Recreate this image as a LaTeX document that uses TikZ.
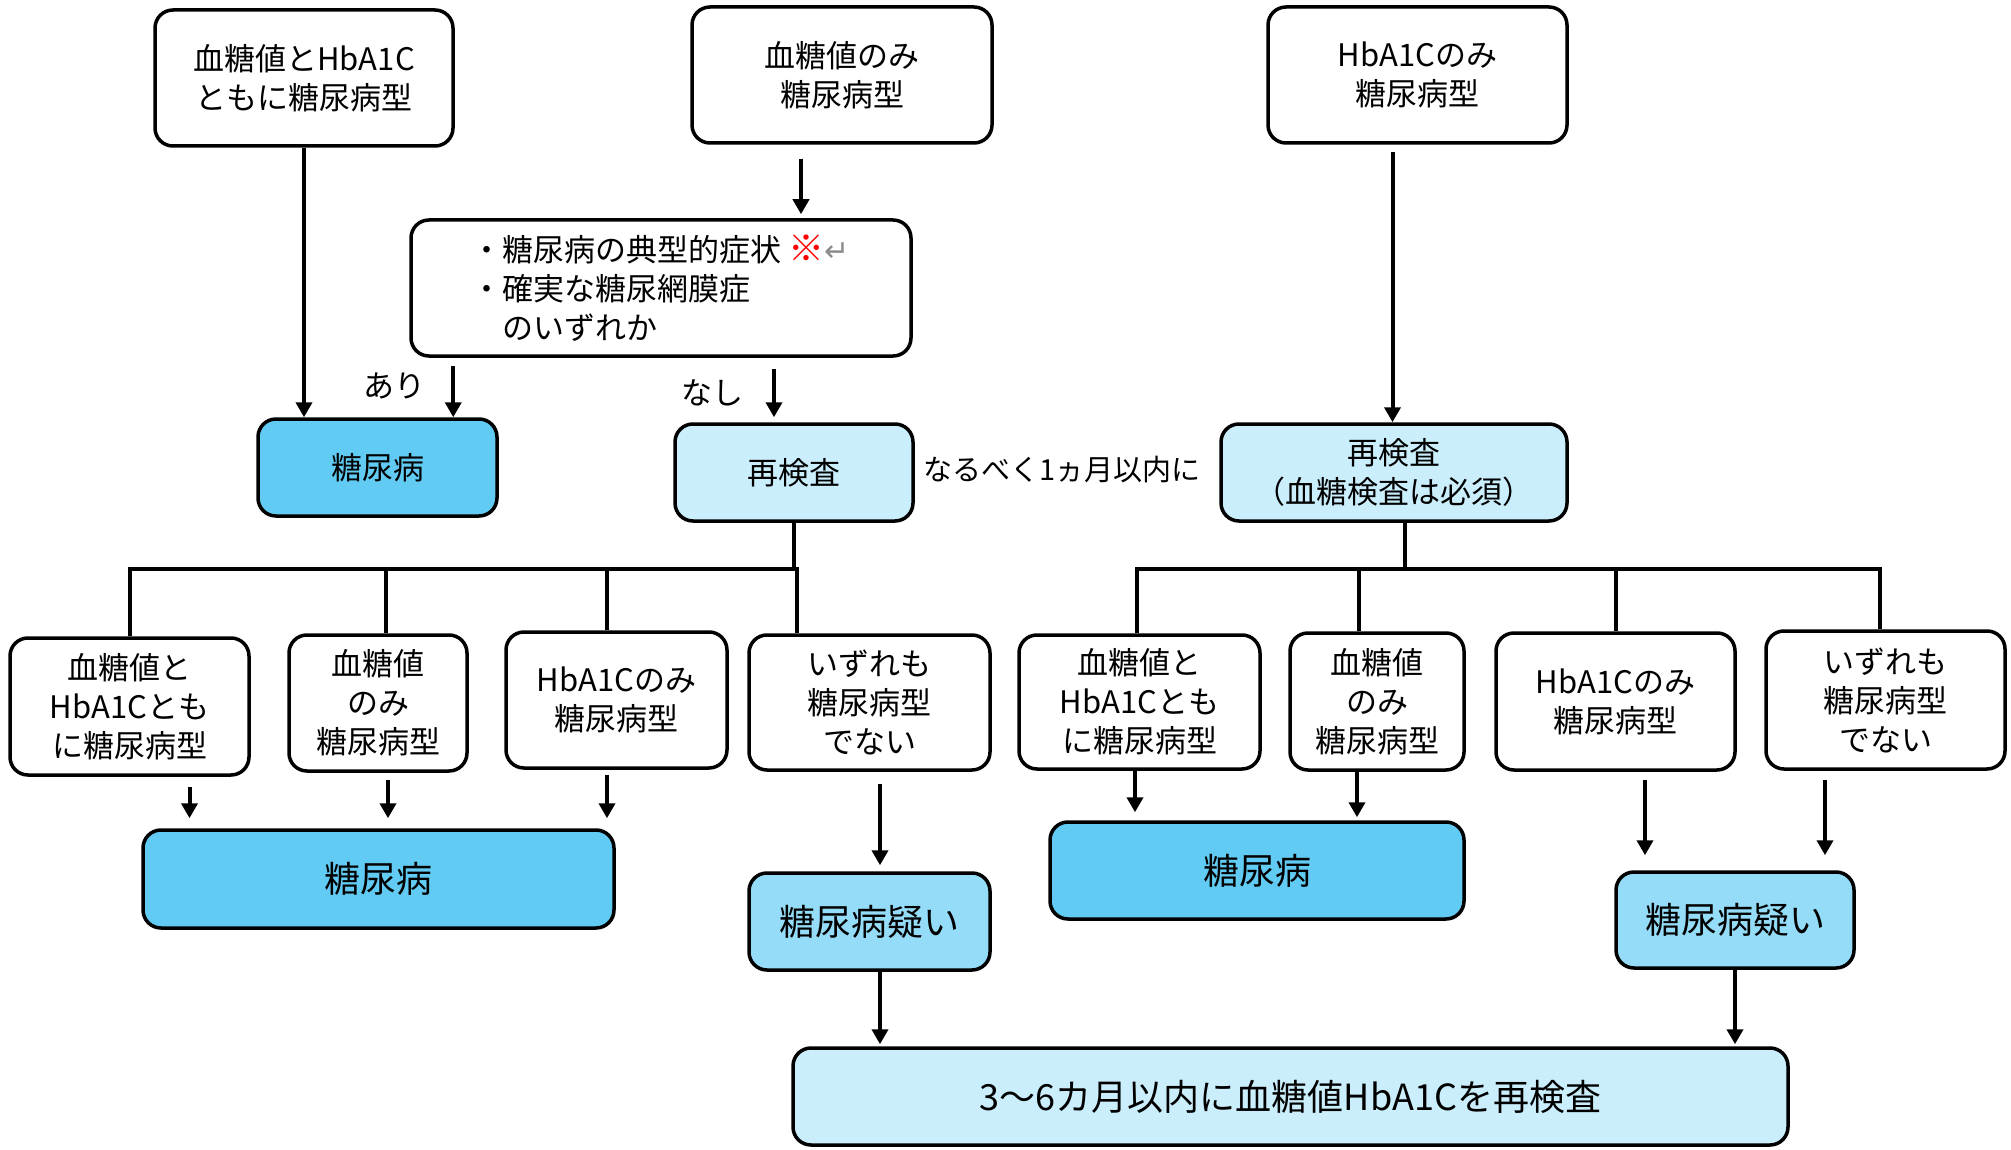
\documentclass[tikz,border=0pt]{standalone}
\usepackage{fontspec}
\setmainfont{Noto Sans CJK JP}
\newfontfamily\dejavu{DejaVu Sans}
\usetikzlibrary{arrows.meta,calc}
\definecolor{dmblue}{HTML}{61CBF3}
\definecolor{reblue}{HTML}{CAEEFB}
\definecolor{susblue}{HTML}{94DCF8}
\definecolor{markgray}{HTML}{8C8C8C}
\tikzset{
  box/.style={draw, line width=3.5pt, rounded corners=18pt, align=center, inner sep=0pt, fill=white, font=\fontsize{31}{39}\selectfont},
  dmbox/.style={box, fill=dmblue},
  rebox/.style={box, fill=reblue},
  susbox/.style={box, fill=susblue, font=\fontsize{36}{44}\selectfont},
  bigtxt/.style={font=\fontsize{36}{44}\selectfont},
  lbl/.style={inner sep=0pt, font=\fontsize{31}{39}\selectfont},
  arr/.style={line width=4pt, -{Triangle[length=15pt,width=16pt]}},
  conn/.style={line width=4pt, line join=miter}
}
\begin{document}
\begin{tikzpicture}[x=1pt,y=-1pt]
\useasboundingbox (0,0) rectangle (2011,1150);
% top row
\node[box, minimum width=298pt, minimum height=136pt] (b1) at (304,78) {血糖値とHbA1C\\ともに糖尿病型};
\node[box, minimum width=300pt, minimum height=136pt] (b2) at (842,75) {血糖値のみ\\糖尿病型};
\node[box, minimum width=299pt, minimum height=136pt] (b3) at (1417.5,75) {HbA1Cのみ\\糖尿病型};
\node[box, minimum width=500pt, minimum height=136pt, align=left] (sym) at (661,288) {・糖尿病の典型的症状 {\fontsize{36}{39}\selectfont\color{red}※}{\dejavu\fontsize{30}{39}\selectfont\color{markgray}↵}\\・確実な糖尿網膜症\\　のいずれか};
% second row
\node[dmbox, minimum width=239pt, minimum height=97pt] (dm1) at (377.5,467.5) {糖尿病};
\node[rebox, minimum width=238pt, minimum height=97pt] (re1) at (794,472.5) {再検査};
\node[rebox, minimum width=346pt, minimum height=97pt] (re2) at (1394,472.5) {再検査\\（血糖検査は必須）};
\node[lbl] (ari) at (394,386) {あり};
\node[lbl] (nashi) at (712,393) {なし};
\node[lbl, font=\fontsize{29}{36}\selectfont] (within) at (1062,470) {なるべく1ヵ月以内に};
% third row left
\node[box, minimum width=239pt, minimum height=137pt] (L1) at (129.5,706.5) {血糖値と\\HbA1Cとも\\に糖尿病型};
\node[box, minimum width=178pt, minimum height=136pt] (L2) at (378,703) {血糖値\\のみ\\糖尿病型};
\node[box, minimum width=221pt, minimum height=136pt] (L3) at (616.5,700) {HbA1Cのみ\\糖尿病型};
\node[box, minimum width=241pt, minimum height=135pt] (L4) at (869.5,702.5) {いずれも\\糖尿病型\\でない};
% third row right
\node[box, minimum width=241pt, minimum height=134pt] (R1) at (1139.5,702) {血糖値と\\HbA1Cとも\\に糖尿病型};
\node[box, minimum width=174pt, minimum height=137pt] (R2) at (1377,701.5) {血糖値\\のみ\\糖尿病型};
\node[box, minimum width=239pt, minimum height=137pt] (R3) at (1615.5,701.5) {HbA1Cのみ\\糖尿病型};
\node[box, minimum width=239pt, minimum height=138pt] (R4) at (1885.5,700) {いずれも\\糖尿病型\\でない};
% results
\node[dmbox, bigtxt, minimum width=471pt, minimum height=98pt] (dmL) at (378.5,879) {糖尿病};
\node[susbox, minimum width=241pt, minimum height=97pt] (susL) at (869.5,921.5) {糖尿病疑い};
\node[dmbox, bigtxt, minimum width=414pt, minimum height=97pt] (dmR) at (1257,870.5) {糖尿病};
\node[susbox, minimum width=238pt, minimum height=96pt] (susR) at (1735,920) {糖尿病疑い};
\node[rebox, bigtxt, minimum width=995pt, minimum height=97pt] (fin) at (1290.5,1096.5) {3〜6カ月以内に血糖値HbA1Cを再検査};
% junction coordinates
\coordinate (jl) at (794,569);
\coordinate (jr) at (1405,569);
% top connectors
\draw[arr] (b1.south) -- (b1.south |- dm1.north);
\draw[arr, shorten <=14pt, shorten >=4pt] ([xshift=-41pt]b2.south) -- ([xshift=-41pt]b2.south |- sym.north);
\draw[arr, shorten <=7pt] ([xshift=-25pt]b3.south) -- ([xshift=-25pt]b3.south |- re2.north);
\draw[arr, shorten <=8pt] ([xshift=44pt]sym.south west) -- ([xshift=44pt]sym.south west |- dm1.north);
\draw[arr, shorten <=11pt, shorten >=5pt] ([xshift=-20pt]re1.north |- sym.south) -- ([xshift=-20pt]re1.north);
% left tree
\draw[conn] (re1.south) -- (jl);
\draw[conn] (L1.north) -- (L1.north |- jl) -- ([xshift=-72.5pt]L4.north |- jl) -- ([xshift=-72.5pt]L4.north);
\draw[conn] ([xshift=8pt]L2.north) -- ([xshift=8pt]L2.north |- jl);
\draw[conn] ([xshift=-9.5pt]L3.north) -- ([xshift=-9.5pt]L3.north |- jl);
% right tree
\draw[conn] ([xshift=11pt]re2.south) -- (jr);
\draw[conn] ([xshift=-2.5pt]R1.north) -- ([xshift=-2.5pt]R1.north |- jr) -- ([xshift=-5.5pt]R4.north |- jr) -- ([xshift=-5.5pt]R4.north);
\draw[conn] ([xshift=-18pt]R2.north) -- ([xshift=-18pt]R2.north |- jr);
\draw[conn] (R3.north) -- (R3.north |- jr);
% lower arrows left
\draw[arr, shorten <=10pt, shorten >=10pt] ([xshift=60pt]L1.south) -- ([xshift=60pt]L1.south |- dmL.north);
\draw[arr, shorten <=7pt, shorten >=10pt] ([xshift=10pt]L2.south) -- ([xshift=10pt]L2.south |- dmL.north);
\draw[arr, shorten <=5pt, shorten >=10pt] ([xshift=-9.5pt]L3.south) -- ([xshift=-9.5pt]L3.south |- dmL.north);
\draw[arr, shorten <=12pt, shorten >=6pt] ([xshift=10.5pt]L4.south) -- ([xshift=10.5pt]L4.south |- susL.north);
\draw[arr, shorten >=2pt] ([xshift=10.5pt]susL.south) -- ([xshift=10.5pt]susL.south |- fin.north);
% lower arrows right
\draw[arr, shorten >=8pt] ([xshift=-4.5pt]R1.south) -- ([xshift=-4.5pt]R1.south |- dmR.north);
\draw[arr, shorten >=3pt] ([xshift=-20pt]R2.south) -- ([xshift=-20pt]R2.south |- dmR.north);
\draw[arr, shorten <=8pt, shorten >=15pt] ([xshift=29.5pt]R3.south) -- ([xshift=29.5pt]R3.south |- susR.north);
\draw[arr, shorten <=9pt, shorten >=15pt] ([xshift=-60.5pt]R4.south) -- ([xshift=-60.5pt]R4.south |- susR.north);
\draw[arr, shorten >=2pt] (susR.south) -- (susR.south |- fin.north);
\end{tikzpicture}
\end{document}
